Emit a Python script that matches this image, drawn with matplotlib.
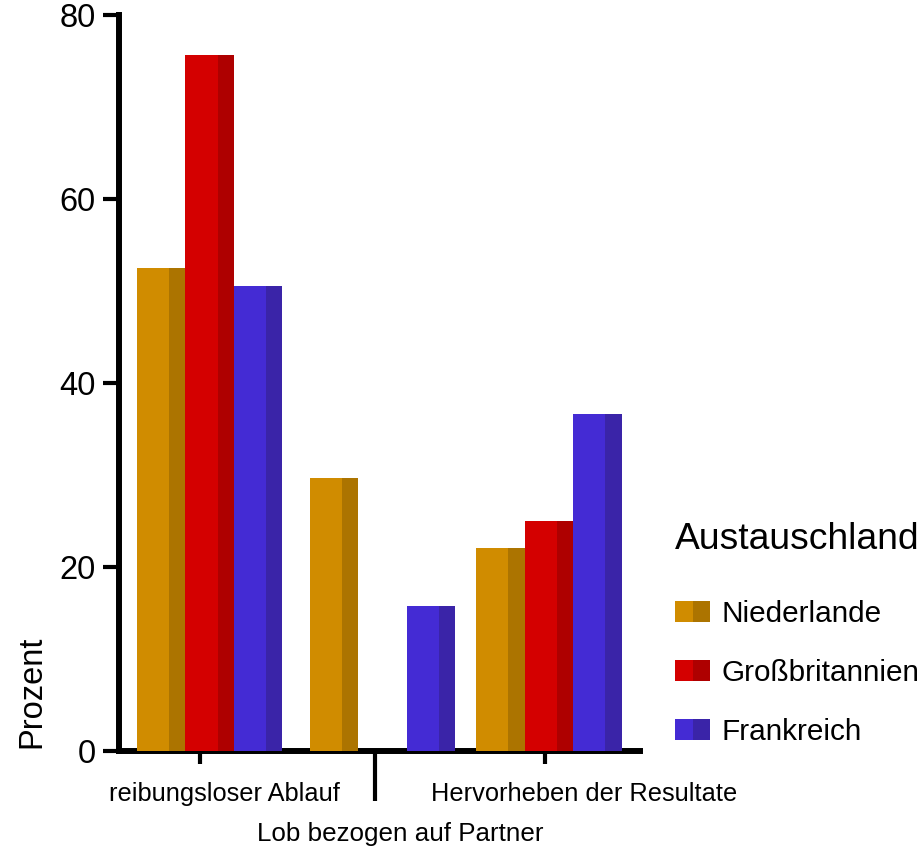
import matplotlib
matplotlib.use('Agg')
import matplotlib.pyplot as plt
from matplotlib.patches import Patch
from matplotlib.legend_handler import HandlerTuple
from matplotlib.transforms import ScaledTranslation

plt.rcParams['font.family'] = ['Liberation Sans', 'DejaVu Sans']

# data
categories = ['reibungsloser Ablauf', 'Hervorheben der Resultate']
countries = ['Niederlande', 'Großbritannien', 'Frankreich']
bar_country = ['Niederlande', 'Großbritannien', 'Frankreich', 'Niederlande',
               'Frankreich', 'Niederlande', 'Großbritannien', 'Frankreich']
bar_values = [52.5, 75.6, 50.5, 29.7, 15.8, 22.1, 25.0, 36.6]
yticks = [0, 20, 40, 60, 80]

light = {'Niederlande': '#D08C00', 'Großbritannien': '#D40000', 'Frankreich': '#442BD4'}
dark = {'Niederlande': '#AC7400', 'Großbritannien': '#AE0000', 'Frankreich': '#3A24A8'}

# layout, x unit = one bar width
bar_left = [0.37, 1.37, 2.37, 3.93, 5.93, 7.36, 8.36, 9.36]
cat_ticks = [1.67, 8.78]
divider = 5.28
label_shift = [0.24, 0.39]  # inches

fig = plt.figure(figsize=(9.23, 8.52), dpi=100)
ax = fig.add_axes([119 / 923, 1 - 751 / 852, 521 / 923, 736 / 852])

for x, v, c in zip(bar_left, bar_values, bar_country):
    ax.bar(x, v, width=1, align='edge', color=light[c], linewidth=0, zorder=2)
    ax.bar(x + 2 / 3, v, width=1 / 3, align='edge', color=dark[c], linewidth=0, zorder=3)

ax.set_xlim(0, 10.74)
ax.set_ylim(0, 80)

for s in ['top', 'right']:
    ax.spines[s].set_visible(False)
for s in ['left', 'bottom']:
    ax.spines[s].set_linewidth(4.3)
    ax.spines[s].set_zorder(1)

ax.set_yticks(yticks)
ax.tick_params(axis='y', length=11.5, width=3, pad=5.5, labelsize=23.5)
ax.set_xticks(cat_ticks)
ax.set_xticklabels(categories)
ax.set_xticks([divider], minor=True)
ax.tick_params(axis='x', which='major', length=9, width=3, pad=13, labelsize=18.3)
ax.tick_params(axis='x', which='minor', length=36, width=3)
for lab, dx in zip(ax.get_xticklabels(), label_shift):
    lab.set_transform(lab.get_transform() + ScaledTranslation(dx, 0, fig.dpi_scale_trans))

ax.set_xlabel('Lob bezogen auf Partner', fontsize=18.7)
ax.xaxis.set_label_coords(0.539, -0.097)
ax.set_ylabel('Prozent', fontsize=23.5)
ax.yaxis.set_label_coords(-0.138, 0.08)

handles = [(Patch(facecolor=light[c], linewidth=0), Patch(facecolor=dark[c], linewidth=0))
           for c in countries]
leg = ax.legend(handles, countries, title='Austauschland',
                handler_map={tuple: HandlerTuple(ndivide=None, pad=0)},
                loc='upper left', bbox_to_anchor=(675 / 923, 1 - 522 / 852),
                bbox_transform=fig.transFigure, frameon=False,
                fontsize=21.4, title_fontsize=26.8, alignment='left',
                borderpad=0, borderaxespad=0, handlelength=1.18, handleheight=0.7,
                handletextpad=0.4, labelspacing=1.04)
leg._legend_box.sep = 31

fig.savefig('out.png', dpi=100)
